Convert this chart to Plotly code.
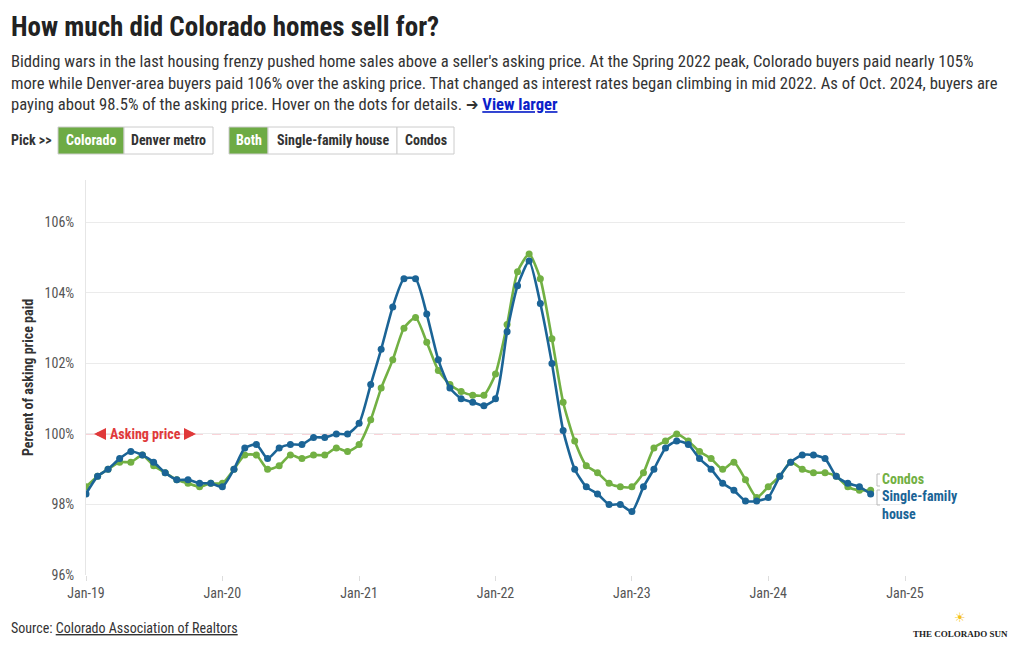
import plotly.graph_objects as go
import pandas as pd

# ---------------- data ----------------
months = pd.date_range("2019-01-01", "2024-10-01", freq="MS")

single_family = [
    98.3, 98.8, 99.0, 99.3, 99.5, 99.4, 99.2, 98.9, 98.7, 98.7, 98.6, 98.6,
    98.5, 99.0, 99.6, 99.7, 99.3, 99.6, 99.7, 99.7, 99.9, 99.9, 100.0, 100.0,
    100.3, 101.4, 102.4, 103.6, 104.4, 104.4, 103.4, 102.1, 101.3, 101.0, 100.9, 100.8,
    101.0, 102.9, 104.2, 104.9, 103.7, 102.0, 100.1, 99.0, 98.5, 98.3, 98.0, 98.0,
    97.8, 98.5, 99.0, 99.6, 99.8, 99.7, 99.3, 99.0, 98.6, 98.4, 98.1, 98.1,
    98.2, 98.8, 99.2, 99.4, 99.4, 99.3, 98.8, 98.6, 98.5, 98.3,
]
condos = [
    98.5, 98.8, 99.0, 99.2, 99.2, 99.4, 99.1, 98.9, 98.7, 98.6, 98.5, 98.6,
    98.6, 99.0, 99.4, 99.4, 99.0, 99.1, 99.4, 99.3, 99.4, 99.4, 99.6, 99.5,
    99.7, 100.4, 101.3, 102.1, 103.0, 103.3, 102.6, 101.8, 101.4, 101.2, 101.1, 101.1,
    101.7, 103.1, 104.6, 105.1, 104.4, 102.7, 100.9, 99.8, 99.1, 98.9, 98.6, 98.5,
    98.5, 98.9, 99.6, 99.8, 100.0, 99.8, 99.5, 99.3, 99.0, 99.2, 98.7, 98.2,
    98.5, 98.8, 99.2, 99.0, 98.9, 98.9, 98.8, 98.5, 98.4, 98.4,
]
y_ticks = [96, 98, 100, 102, 104, 106]
y_tick_labels = ["96%", "98%", "100%", "102%", "104%", "106%"]
x_ticks = ["2019-01-01", "2020-01-01", "2021-01-01", "2022-01-01", "2023-01-01", "2024-01-01", "2025-01-01"]
x_tick_labels = ["Jan-19", "Jan-20", "Jan-21", "Jan-22", "Jan-23", "Jan-24", "Jan-25"]
asking_price = 100

# ---------------- style ----------------
FONT = "Roboto Condensed, Liberation Sans Narrow, DejaVu Sans Condensed, Roboto, sans-serif"
BLUE = "#1b6496"
GREEN = "#72b043"
BTN_GREEN = "#6eab45"
RED = "#e0393a"

W, H = 1020, 650
L, R, T, B = 86, 905, 180, 575  # plot area in pixels


def px(x):
    return (x - L) / (R - L)


def py(y):
    return (B - y) / (B - T)


fig = go.Figure()

fig.add_trace(go.Scatter(
    x=months, y=condos, name="Condos", mode="lines+markers",
    line=dict(color=GREEN, width=2.6, shape="spline", smoothing=0.6),
    marker=dict(color=GREEN, size=7),
    hovertemplate="%{x|%b %Y}<br>Condos: %{y:.1f}%<extra></extra>",
))
fig.add_trace(go.Scatter(
    x=months, y=single_family, name="Single-family house", mode="lines+markers",
    line=dict(color=BLUE, width=2.6, shape="spline", smoothing=0.6),
    marker=dict(color=BLUE, size=7),
    hovertemplate="%{x|%b %Y}<br>Single-family: %{y:.1f}%<extra></extra>",
))

shapes = []
annotations = []

# asking-price dashed line with label
shapes.append(dict(type="line", xref="x", yref="y", x0="2019-01-01", x1="2025-01-01",
                   y0=asking_price, y1=asking_price, layer="below",
                   line=dict(color="#f7c5cc", width=1.5, dash="dash")))
shapes.append(dict(type="rect", xref="paper", yref="paper", x0=px(91), x1=px(199),
                   y0=py(440), y1=py(426), layer="below", fillcolor="white",
                   line=dict(width=0)))
annotations.append(dict(xref="paper", yref="y", x=px(145), y=asking_price, xanchor="center",
                        yanchor="middle", showarrow=False,
                        text="<b>Asking price</b>",
                        font=dict(family=FONT, size=14, color=RED)))
# arrows either side of the label
annotations.append(dict(xref="paper", yref="y", x=px(94), y=asking_price, ax=13, ay=0,
                        axref="pixel", ayref="pixel", text="", showarrow=True,
                        arrowhead=2, arrowsize=0.8, arrowwidth=3, arrowcolor=RED,
                        standoff=0, startstandoff=0))
annotations.append(dict(xref="paper", yref="y", x=px(196), y=asking_price, ax=-13, ay=0,
                        axref="pixel", ayref="pixel", text="", showarrow=True,
                        arrowhead=2, arrowsize=0.8, arrowwidth=3, arrowcolor=RED,
                        standoff=0, startstandoff=0))

# title & subtitle
annotations.append(dict(xref="paper", yref="paper", x=px(9), y=py(9), xanchor="left", yanchor="top",
                        showarrow=False, align="left",
                        text="<b>How much did Colorado homes sell for?</b>",
                        font=dict(family=FONT, size=27, color="#222222")))
subtitle = ("Bidding wars in the last housing frenzy pushed home sales above a seller's asking price. "
            "At the Spring 2022 peak, Colorado buyers paid nearly 105%<br>"
            "more while Denver-area buyers paid 106% over the asking price. That changed as interest "
            "rates began climbing in mid 2022. As of Oct. 2024, buyers are<br>"
            "paying about 98.5% of the asking price. Hover on the dots for details. \u2794 "
            "<b><span style='color:#0b21c9'><u>View larger</u></span></b>")
annotations.append(dict(xref="paper", yref="paper", x=px(9), y=py(50), xanchor="left", yanchor="top",
                        showarrow=False, align="left", text=subtitle,
                        font=dict(family=FONT, size=16.6, color="#333333")))

# buttons row
annotations.append(dict(xref="paper", yref="paper", x=px(9), y=py(140), xanchor="left", yanchor="middle",
                        showarrow=False, text="<b>Pick >></b>",
                        font=dict(family=FONT, size=14, color="#333333")))
buttons = [
    ("Colorado", 58, 124, True),
    ("Denver metro", 124, 213, False),
    ("Both", 229, 268, True),
    ("Single-family house", 268, 397, False),
    ("Condos", 397, 454, False),
]
for label, x0, x1, active in buttons:
    shapes.append(dict(type="rect", xref="paper", yref="paper", x0=px(x0), x1=px(x1),
                       y0=py(154), y1=py(127),
                       fillcolor=BTN_GREEN if active else "white",
                       line=dict(color="#cccccc", width=1)))
    annotations.append(dict(xref="paper", yref="paper", x=px((x0 + x1) / 2), y=py(140.5),
                            xanchor="center", yanchor="middle", showarrow=False,
                            text=f"<b>{label}</b>",
                            font=dict(family=FONT, size=14, color="white" if active else "#333333")))

# end labels
annotations.append(dict(xref="paper", yref="paper", x=px(880), y=py(479), xanchor="left", yanchor="middle",
                        showarrow=False, text="<b>Condos</b>",
                        font=dict(family=FONT, size=14, color=GREEN)))
annotations.append(dict(xref="paper", yref="paper", x=px(880), y=py(504.5), xanchor="left", yanchor="middle",
                        showarrow=False, align="left", text="<b>Single-family<br>house</b>",
                        font=dict(family=FONT, size=14, color=BLUE)))
for y0, y1 in [(474, 486), (490, 505)]:
    shapes.append(dict(type="path", xref="paper", yref="paper",
                       path=f"M {px(880)} {py(y0)} L {px(877)} {py(y0)} L {px(877)} {py(y1)} L {px(880)} {py(y1)}",
                       line=dict(color="#bbbbbb", width=1)))

# source & logo
annotations.append(dict(xref="paper", yref="paper", x=px(9), y=py(628), xanchor="left", yanchor="middle",
                        showarrow=False,
                        text="Source: <u>Colorado Association of Realtors</u>",
                        font=dict(family=FONT, size=14, color="#333333")))
annotations.append(dict(xref="paper", yref="paper", x=px(960), y=py(617), xanchor="center", yanchor="middle",
                        showarrow=False, text="\u2600", borderpad=0,
                        font=dict(family="DejaVu Sans", size=13, color="#f5c21b")))
annotations.append(dict(xref="paper", yref="paper", x=px(960), y=py(634), xanchor="center", yanchor="middle",
                        showarrow=False, text="<b>THE COLORADO SUN</b>", borderpad=0,
                        font=dict(family="Liberation Serif, DejaVu Serif, serif", size=9, color="#222222")))

fig.update_layout(
    width=W, height=H,
    margin=dict(l=L, r=W - R, t=T, b=H - B),
    paper_bgcolor="white", plot_bgcolor="white",
    showlegend=False,
    font=dict(family=FONT, size=14, color="#555555"),
    shapes=shapes, annotations=annotations,
    hovermode="closest",
)
fig.update_xaxes(
    type="date", range=["2019-01-01", "2025-01-01"],
    tickvals=x_ticks, ticktext=x_tick_labels,
    showgrid=False, zeroline=False, showline=False,
    ticks="outside", ticklen=5, tickcolor="#dddddd",
    tickfont=dict(family=FONT, size=14, color="#555555"),
)
fig.update_yaxes(
    range=[96, 107.2], tickvals=y_ticks, ticktext=y_tick_labels,
    showgrid=True, gridcolor="#ebebeb", zeroline=False,
    showline=True, linecolor="#e6e6e6", linewidth=1,
    ticks="outside", ticklen=8, tickcolor="rgba(0,0,0,0)",
    tickfont=dict(family=FONT, size=14, color="#555555"),
    title=dict(text="<b>Percent of asking price paid</b>", standoff=7,
               font=dict(family=FONT, size=14, color="#333333")),
)

fig.write_html("out.html", config={"displayModeBar": False},
               post_script="document.body.style.margin='0px';")
